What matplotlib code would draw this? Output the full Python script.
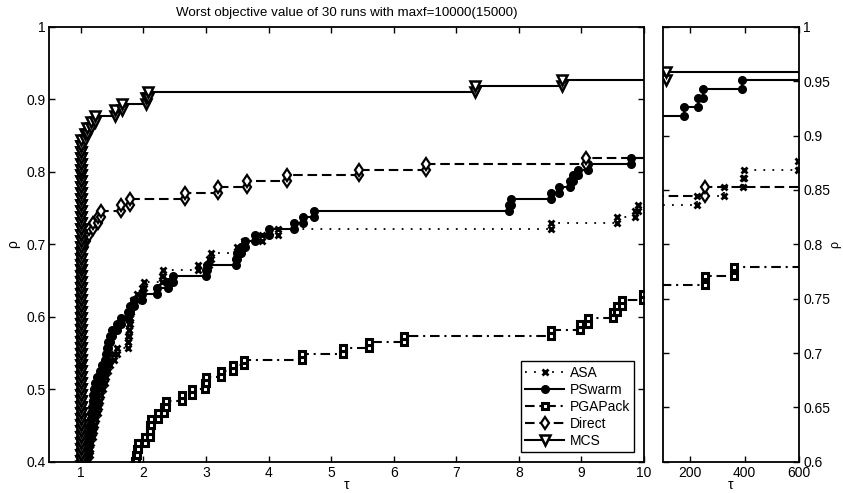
import numpy as np
import matplotlib
matplotlib.use('Agg')
import matplotlib.pyplot as plt
from matplotlib.ticker import FormatStrFormatter

plt.rcParams['font.family'] = ['Liberation Sans', 'DejaVu Sans']

N_PROB = 122
X_END = 1000.0   # unsolved problems: line runs off to the right

# sorted performance ratios per solver (k0 = problems below the shown range)
asa_k0 = 48
asa_tau = [1.11, 1.12, 1.14, 1.15, 1.17, 1.19, 1.21, 1.23, 1.25, 1.27,
           1.29, 1.31, 1.33, 1.35, 1.38, 1.41, 1.44, 1.47, 1.53, 1.58,
           1.76, 1.76, 1.77, 1.77, 1.78, 1.79, 1.80, 1.84, 1.90, 1.98,
           2.01, 2.29, 2.31, 2.88, 3.05, 3.08, 3.49, 3.60, 3.90, 4.15,
           8.51, 9.56, 9.85, 9.90,
           12, 15, 19, 24, 30, 38, 45, 54, 63, 75,
           224, 324, 394, 398, 596]

pswarm_k0 = 48
pswarm_tau = [1.08, 1.09, 1.10, 1.11, 1.13, 1.14, 1.15, 1.16, 1.17, 1.18,
              1.19, 1.20, 1.21, 1.22, 1.26, 1.30, 1.34, 1.38, 1.40, 1.42,
              1.44, 1.46, 1.50, 1.58, 1.64, 1.76, 1.79, 1.85, 1.98, 2.22,
              2.40, 2.48, 3.00, 3.02, 3.48, 3.50, 3.56, 3.63, 3.79, 4.00,
              4.40, 4.55, 4.72, 7.85, 7.88, 8.52, 8.64, 8.82, 8.86, 8.94,
              9.10, 9.79,
              12, 14, 17, 20, 24, 29, 35, 41, 48, 56, 65, 76,
              178, 230, 249, 390]

pga_k0 = 48
pga_tau = [1.87, 1.88, 1.90, 1.92, 2.03, 2.10, 2.11, 2.12, 2.24, 2.33,
           2.36, 2.62, 2.78, 2.98, 3.00, 3.24, 3.44, 3.60, 4.53, 5.19,
           5.61, 6.16, 8.52, 8.97, 9.10, 9.50, 9.56, 9.64, 9.99,
           11, 12, 14, 16, 18, 21, 24, 28, 32, 37, 43, 50, 56, 63, 70, 78,
           254, 362]

direct_k0 = 48
direct_tau = [1.0] * 37 + [1.05, 1.09, 1.13, 1.20, 1.27, 1.33, 1.65, 1.79,
                           2.67, 3.20, 3.66, 4.30, 5.45, 6.52, 9.08,
                           18, 40, 70, 254]

mcs_k0 = 48
mcs_tau = [1.0] * 55 + [1.06, 1.10, 1.16, 1.22, 1.55, 1.66, 2.05, 2.07,
                        7.30, 8.69, 25, 48, 75, 112]

names = ['ASA', 'PSwarm', 'PGAPack', 'Direct', 'MCS']


def stairs(k0, tau):
    tau = np.asarray(tau, dtype=float)
    rho = (k0 + np.arange(1, len(tau) + 1)) / N_PROB
    xs = np.concatenate([np.repeat(tau, 2), [X_END]])
    ys = np.concatenate([[k0 / N_PROB], np.repeat(rho, 2)])
    return xs, ys


series = [
    (asa_k0, asa_tau, dict(ls=(0, (1, 4)), lw=1.3, marker='x', ms=4.5, mew=2,
                           mfc='k', mec='k')),
    (pswarm_k0, pswarm_tau, dict(ls='-', lw=1.5, marker='o', ms=5.5, mew=1,
                                 mfc='k', mec='k')),
    (pga_k0, pga_tau, dict(ls=(0, (4.6, 2.3, 1, 2.3)), lw=1.5, marker='s',
                           ms=5, mew=2.2, mfc='w', mec='k')),
    (direct_k0, direct_tau, dict(ls=(0, (4.6, 2.3)), lw=1.5, marker='d',
                                 ms=6.5, mew=1.6, mfc='w', mec='k')),
    (mcs_k0, mcs_tau, dict(ls='-', lw=1.5, marker='v', ms=6.5, mew=1.8,
                           mfc='w', mec='k')),
]

fig = plt.figure(figsize=(8.43, 4.93), dpi=100)
ax1 = fig.add_axes([0.0587, 0.0635, 0.7053, 0.8818])
ax2 = fig.add_axes([0.7861, 0.0635, 0.1621, 0.8818])

handles = []
for (k0, tau, style), name in zip(series, names):
    xs, ys = stairs(k0, tau)
    h, = ax1.plot(xs, ys, color='k', label=name, **style)
    ax2.plot(xs, ys, color='k', **style)
    handles.append(h)

ax1.set_xlim(0.5, 10)
ax1.set_ylim(0.4, 1)
ax1.set_xticks(range(1, 11))
ax1.set_yticks(np.arange(0.4, 1.01, 0.1))
ax1.yaxis.set_major_formatter(FormatStrFormatter('%g'))

ax2.set_xlim(100, 600)
ax2.set_ylim(0.6, 1)
ax2.set_xticks([200, 400, 600])
ax2.set_yticks(np.arange(0.6, 1.001, 0.05))
ax2.yaxis.set_major_formatter(FormatStrFormatter('%g'))

for ax in (ax1, ax2):
    ax.tick_params(direction='in', length=4, width=1, top=True, right=True,
                   labelsize=10, pad=3)
    for sp in ax.spines.values():
        sp.set_linewidth(1.3)
    ax.set_xlabel('τ', fontsize=10, labelpad=-1)

ax2.tick_params(labelleft=False, labelright=True)
ax2.yaxis.set_label_position('right')
ax2.set_ylabel('ρ', fontsize=9, labelpad=-1)
ax1.set_ylabel('ρ', fontsize=10)

ax1.set_title('Worst objective value of 30 runs with maxf=10000(15000)',
              fontsize=9.6, pad=8)

leg = ax1.legend(handles=handles, loc='lower right', fontsize=10,
                 handlelength=2.8, handletextpad=0.4, labelspacing=0.22,
                 borderpad=0.3, borderaxespad=0.7, fancybox=False,
                 framealpha=1, edgecolor='k')
leg.get_frame().set_linewidth(1.0)

fig.savefig('out.png', dpi=100)
